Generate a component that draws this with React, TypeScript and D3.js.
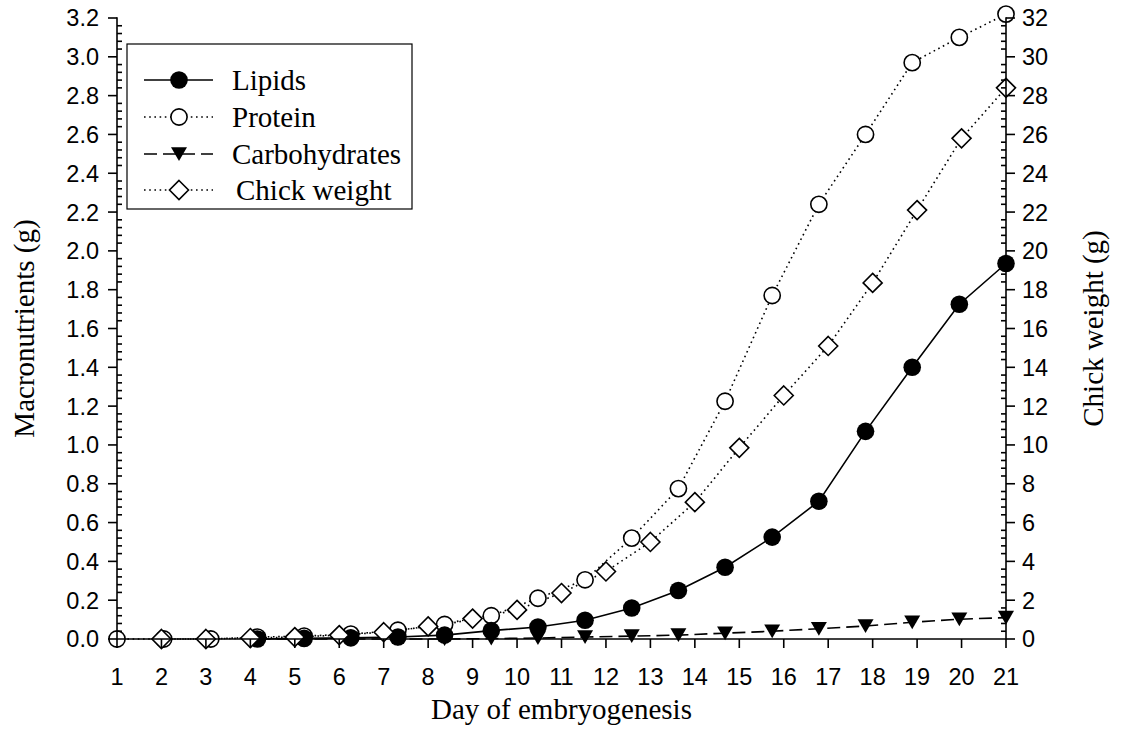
import React from 'react';
import * as d3 from 'd3';

// ---- data ----
const macroDays = [1.0, 2.05, 3.11, 4.16, 5.21, 6.26, 7.32, 8.37, 9.42, 10.47, 11.53, 12.58, 13.63, 14.68, 15.74, 16.79, 17.84, 18.89, 19.95, 21.0];
const proteinValues = [0, 0, 0, 0.01, 0.015, 0.025, 0.045, 0.075, 0.12, 0.21, 0.305, 0.52, 0.775, 1.225, 1.77, 2.24, 2.6, 2.97, 3.1, 3.22];
const lipidCarbDays = [4.16, 5.21, 6.26, 7.32, 8.37, 9.42, 10.47, 11.53, 12.58, 13.63, 14.68, 15.74, 16.79, 17.84, 18.89, 19.95, 21.0];
const lipidValues = [0.0, 0.003, 0.006, 0.01, 0.02, 0.043, 0.062, 0.097, 0.16, 0.25, 0.37, 0.525, 0.71, 1.07, 1.4, 1.725, 1.935];
const carbValues = [0.0, 0.0, 0.0, 0.0, 0.0, 0.002, 0.005, 0.01, 0.015, 0.02, 0.03, 0.04, 0.053, 0.067, 0.086, 0.102, 0.11];
const chickDays = [2, 3, 4, 5, 6, 7, 8, 9, 10, 11, 12, 13, 14, 15, 16, 17, 18, 19, 20, 21];
const chickValues = [0, 0, 0.05, 0.1, 0.2, 0.35, 0.65, 1.05, 1.5, 2.37, 3.48, 5.0, 7.05, 9.85, 12.55, 15.1, 18.35, 22.1, 25.8, 28.4];

const dayTicks = [1, 2, 3, 4, 5, 6, 7, 8, 9, 10, 11, 12, 13, 14, 15, 16, 17, 18, 19, 20, 21];
const leftTicks = [0, 0.2, 0.4, 0.6, 0.8, 1.0, 1.2, 1.4, 1.6, 1.8, 2.0, 2.2, 2.4, 2.6, 2.8, 3.0, 3.2];
const rightTicks = [0, 2, 4, 6, 8, 10, 12, 14, 16, 18, 20, 22, 24, 26, 28, 30, 32];
const legendLabels = ['Lipids', 'Protein', 'Carbohydrates', 'Chick weight'];
const xTitle = 'Day of embryogenesis';
const yLeftTitle = 'Macronutrients (g)';
const yRightTitle = 'Chick weight (g)';

// ---- layout ----
const W = 1121;
const H = 730;
const X0 = 117;
const X1 = 1006;
const Y0 = 639;
const Y1 = 18;
const SANS = '"Liberation Sans", Arial, sans-serif';
const SERIF = '"Liberation Serif", "Times New Roman", serif';
const TICK_FS = 23.5;
const TITLE_FS = 29;

const circlePath = (r: number) => d3.symbol(d3.symbolCircle, Math.PI * r * r)() as string;
const diamondPath = 'M0,-9.5L9.5,0L0,9.5L-9.5,0Z';
const trianglePath = 'M-8,-6.8L8,-6.8L0,7Z';

type Kind = 'filled' | 'open' | 'tri' | 'diamond';

function Marker({ kind, cx, cy }: { kind: Kind; cx: number; cy: number }) {
  const t = `translate(${cx},${cy})`;
  if (kind === 'filled') return <path d={circlePath(8.8)} transform={t} fill="#000" />;
  if (kind === 'open') return <path d={circlePath(8.1)} transform={t} fill="#fff" stroke="#000" strokeWidth={1.6} />;
  if (kind === 'tri') return <path d={trianglePath} transform={t} fill="#000" />;
  return <path d={diamondPath} transform={t} fill="#fff" stroke="#000" strokeWidth={1.6} />;
}

export default function App() {
  const x = d3.scaleLinear().domain([1, 21]).range([X0, X1]);
  const yL = d3.scaleLinear().domain([0, 3.2]).range([Y0, Y1]);
  const yR = d3.scaleLinear().domain([0, 32]).range([Y0, Y1]);

  const fmtL = d3.format('.1f');
  const leftMinor = d3.range(0, 3.2001, 0.04).filter((v) => Math.abs(Math.round(v / 0.2) * 0.2 - v) > 1e-6);
  const rightMinor = d3.range(0, 32.001, 0.4).filter((v) => Math.abs(Math.round(v / 2) * 2 - v) > 1e-6);

  const lineL = d3.line<[number, number]>().x((d) => x(d[0])).y((d) => yL(d[1]));
  const lineR = d3.line<[number, number]>().x((d) => x(d[0])).y((d) => yR(d[1]));

  const protein = macroDays.map((d, i) => [d, proteinValues[i]] as [number, number]);
  const lipids = lipidCarbDays.map((d, i) => [d, lipidValues[i]] as [number, number]);
  const carbs = lipidCarbDays.map((d, i) => [d, carbValues[i]] as [number, number]);
  const chick = chickDays.map((d, i) => [d, chickValues[i]] as [number, number]);

  const dotted = '1.6,3.6';
  const dashed = '13,6';

  const legendX = 127;
  const legendY = 44;
  const legendRows = [80, 117, 154, 190];
  const legendKinds: Kind[] = ['filled', 'open', 'tri', 'diamond'];
  const legendDash = [undefined, dotted, dashed, dotted];
  const legendTextX = [232, 232, 232, 236];

  return (
    <svg width={W} height={H} style={{ position: 'absolute', left: 0, top: 0, background: '#fff' }}>
      <rect x={0} y={0} width={W} height={H} fill="#fff" />

      {/* lines */}
      <path d={lineL(protein) as string} fill="none" stroke="#000" strokeWidth={1.6} strokeDasharray={dotted} />
      <path d={lineR(chick) as string} fill="none" stroke="#000" strokeWidth={1.6} strokeDasharray={dotted} />
      <path d={lineL(lipids) as string} fill="none" stroke="#000" strokeWidth={1.6} />
      <path d={lineL(carbs) as string} fill="none" stroke="#000" strokeWidth={1.6} strokeDasharray={dashed} />

      {/* markers */}
      {protein.map((d, i) => <Marker key={'p' + i} kind="open" cx={x(d[0])} cy={yL(d[1])} />)}
      {lipids.map((d, i) => <Marker key={'l' + i} kind="filled" cx={x(d[0])} cy={yL(d[1])} />)}
      {carbs.map((d, i) => <Marker key={'c' + i} kind="tri" cx={x(d[0])} cy={yL(d[1])} />)}
      {chick.map((d, i) => <Marker key={'w' + i} kind="diamond" cx={x(d[0])} cy={yR(d[1])} />)}

      {/* axes */}
      <g stroke="#000" strokeWidth={1.6}>
        <line x1={X0} x2={X0} y1={Y1 - 0.8} y2={Y0 + 0.8} />
        <line x1={X1} x2={X1} y1={Y1 - 0.8} y2={Y0 + 0.8} />
        <line x1={X0} x2={X1} y1={Y0} y2={Y0} />
        {leftTicks.map((v) => <line key={'lt' + v} x1={X0 - 9} x2={X0} y1={yL(v)} y2={yL(v)} />)}
        {leftMinor.map((v) => <line key={'lm' + v} x1={X0} x2={X0 + 5} y1={yL(v)} y2={yL(v)} />)}
        {rightTicks.map((v) => <line key={'rt' + v} x1={X1} x2={X1 + 9} y1={yR(v)} y2={yR(v)} />)}
        {rightMinor.map((v) => <line key={'rm' + v} x1={X1 - 5} x2={X1} y1={yR(v)} y2={yR(v)} />)}
        {dayTicks.map((v) => <line key={'xt' + v} x1={x(v)} x2={x(v)} y1={Y0} y2={Y0 + 9} />)}
      </g>
      <g fontFamily={SANS} fontSize={TICK_FS} fill="#000">
        {leftTicks.map((v) => (
          <text key={'ll' + v} x={X0 - 18} y={yL(v)} dy="0.36em" textAnchor="end">{fmtL(v)}</text>
        ))}
        {rightTicks.map((v) => (
          <text key={'rl' + v} x={X1 + 16} y={yR(v)} dy="0.36em" textAnchor="start">{v}</text>
        ))}
        {dayTicks.map((v) => (
          <text key={'xl' + v} x={x(v)} y={685} textAnchor="middle">{v}</text>
        ))}
      </g>

      {/* titles */}
      <g fontFamily={SERIF} fontSize={TITLE_FS} fill="#000">
        <text x={(X0 + X1) / 2} y={719} textAnchor="middle">{xTitle}</text>
        <text transform={`translate(34,${(Y0 + Y1) / 2}) rotate(-90)`} textAnchor="middle">{yLeftTitle}</text>
        <text transform={`translate(1103,${(Y0 + Y1) / 2}) rotate(-90)`} textAnchor="middle">{yRightTitle}</text>
      </g>

      {/* legend */}
      <rect x={legendX} y={legendY} width={285} height={165} fill="#fff" stroke="#000" strokeWidth={1.2} />
      {legendLabels.map((lab, i) => (
        <g key={lab}>
          <line x1={144} x2={213} y1={legendRows[i]} y2={legendRows[i]} stroke="#000" strokeWidth={1.6} strokeDasharray={legendDash[i]} />
          <Marker kind={legendKinds[i]} cx={179} cy={legendRows[i]} />
          <text x={legendTextX[i]} y={legendRows[i] + 10} fontFamily={SERIF} fontSize={TITLE_FS} fill="#000">{lab}</text>
        </g>
      ))}
    </svg>
  );
}
